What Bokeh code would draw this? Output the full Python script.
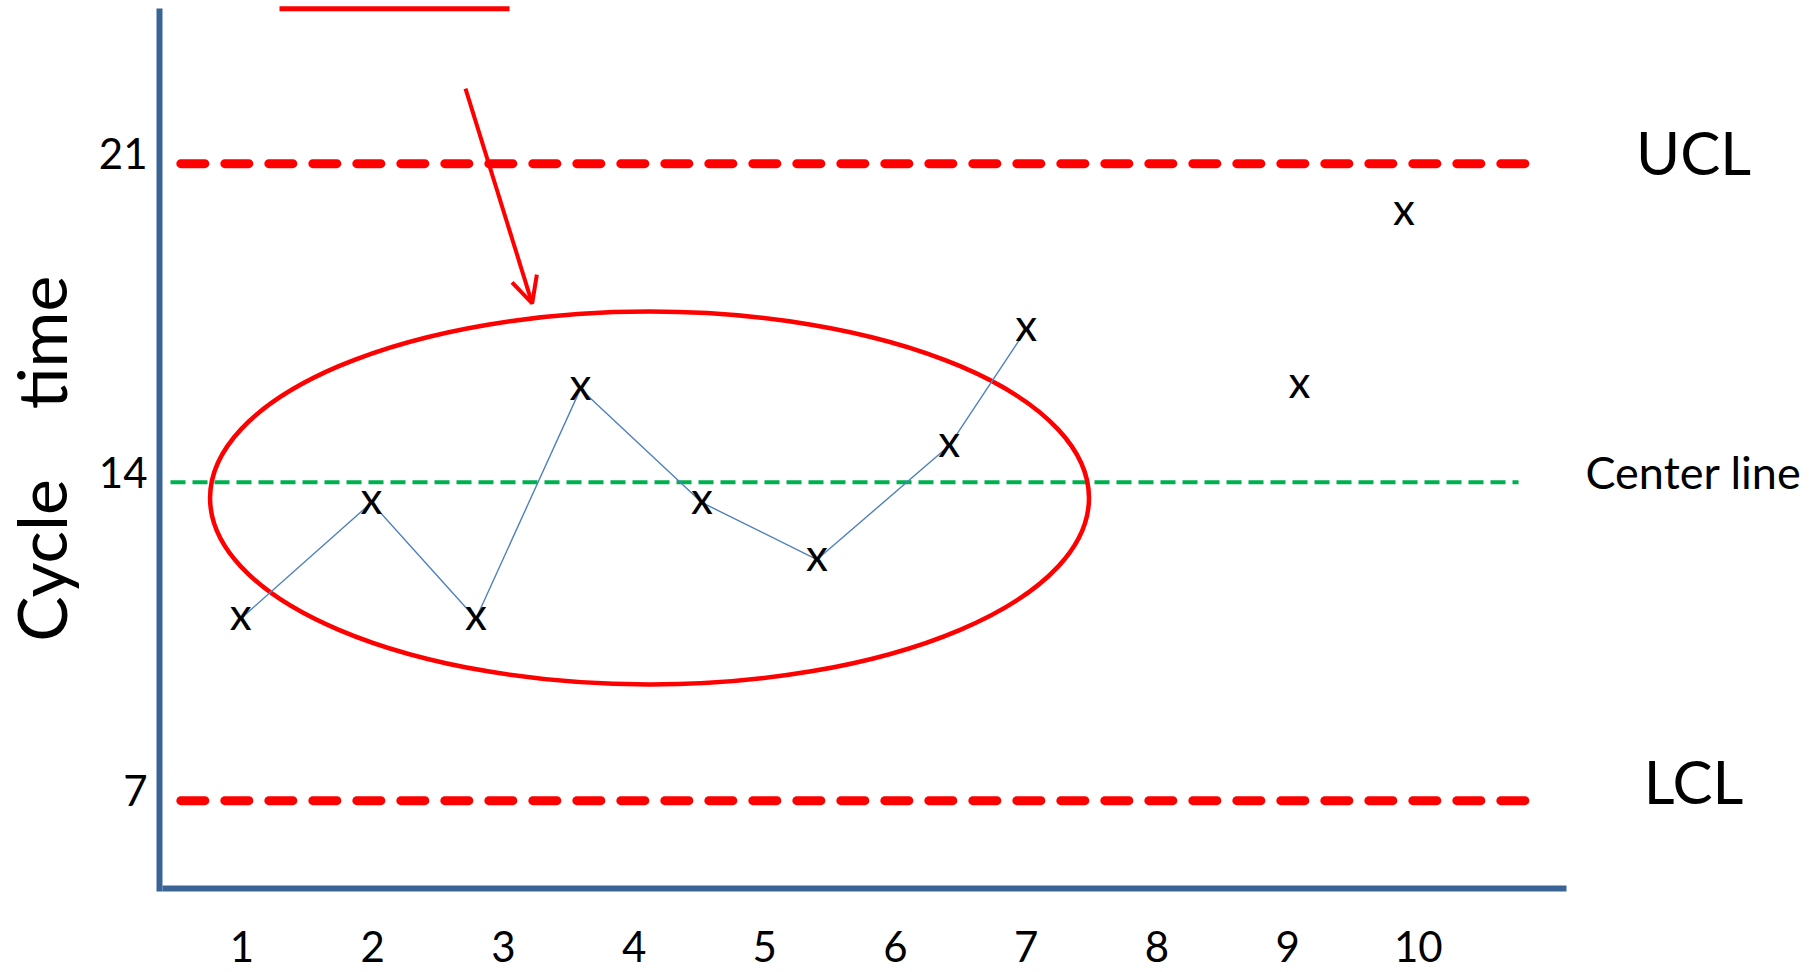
from bokeh.plotting import figure
from bokeh.models import FixedTicker, Arrow, OpenHead, Range1d
from bokeh.embed import file_html
from bokeh.resources import INLINE
from bokeh.core.properties import value

# ---------------- data ----------------
sample_x = [0.99, 1.99, 2.79, 3.59, 4.52, 5.40, 6.41, 7.00, 9.09, 9.89]
cycle_time = [11.0, 13.55, 11.0, 16.05, 13.55, 12.3, 14.8, 17.35, 16.1, 19.9]
n_connected = 8                     # first samples joined by the run line
ucl = 21
center = 14
lcl = 7
limit_names = ["UCL", "Center line", "LCL"]
y_ticks = [7, 14, 21]
x_ticks = [1, 2, 3, 4, 5, 6, 7, 8, 9, 10]
x_tick_labels = ["1", "2", "3", "4", "5", "6", "7", "8", "9", "10"]
y_title = "Cycle\u00a0\u00a0\u00a0\u00a0time\u00a0"

# ---------------- layout / style ----------------
FONT = "Lato"
AXIS = "#3B6496"
RED = "#FF0000"
GREEN = "#00B050"
BLUE = "#4F81BD"

X_RANGE = (-0.8477, 13.0696)
Y_RANGE = (3.2235, 24.586)
AXIS_X = 0.3688      # where the vertical axis stands
AXIS_Y = 5.07        # where the horizontal axis stands
LABEL_LIFT = 0.22    # y tick labels sit slightly above their lines in the sketch

p = figure(width=1819, height=972, output_backend="svg", toolbar_location=None,
           x_range=X_RANGE, y_range=Y_RANGE,
           min_border=0, min_border_left=0, min_border_right=0,
           min_border_top=0, min_border_bottom=0)
p.grid.visible = False
p.outline_line_color = None
p.background_fill_color = "white"
p.border_fill_color = "white"
p.extra_y_ranges = {"ticks": Range1d(Y_RANGE[0] - LABEL_LIFT, Y_RANGE[1] - LABEL_LIFT)}

for ax in (p.xaxis[0], p.yaxis[0]):
    ax.axis_line_color = AXIS
    ax.axis_line_width = 6
    ax.major_tick_line_color = None
    ax.minor_tick_line_color = None
    ax.major_label_text_font = FONT
    ax.major_label_text_font_size = "42px"
    ax.major_label_text_color = "black"

p.xaxis.fixed_location = AXIS_Y
p.xaxis.bounds = (0.39, 11.134)
p.xaxis.ticker = FixedTicker(ticks=x_ticks)
p.xaxis.major_label_overrides = {t: l for t, l in zip(x_ticks, x_tick_labels)}
p.xaxis.major_label_standoff = 37

yax = p.yaxis[0]
yax.y_range_name = "ticks"
yax.fixed_location = AXIS_X
yax.bounds = (5.0 - LABEL_LIFT, 24.41 - LABEL_LIFT)
yax.ticker = FixedTicker(ticks=y_ticks)
yax.major_label_standoff = 6
yax.axis_label = y_title
yax.axis_label_text_font = FONT
yax.axis_label_text_font_size = "68px"
yax.axis_label_text_font_style = "normal"
yax.axis_label_text_color = "black"
yax.axis_label_standoff = 15

# control limits
lim_x0, lim_x1 = 0.532, 10.824
p.segment(x0=[lim_x0, lim_x0], x1=[lim_x1, lim_x1], y0=[ucl, lcl], y1=[ucl, lcl],
          line_color=RED, line_width=9, line_dash="24 20", line_cap="round")
p.segment(x0=[0.453], x1=[10.767], y0=[center], y1=[center],
          line_color=GREEN, line_width=4, line_dash="15 7")

# highlight ellipse around the run
p.ellipse(x=[4.118], y=[13.652], width=[6.725], height=[8.198],
          fill_color=None, line_color=RED, line_width=4.5)

# short red bar at the top
p.segment(x0=[1.287], x1=[3.047], y0=[24.404], y1=[24.404], line_color=RED, line_width=5)

# arrow
p.add_layout(Arrow(end=OpenHead(size=26, line_color=RED, line_width=4),
                   x_start=2.71, y_start=22.65, x_end=3.22, y_end=17.93,
                   line_color=RED, line_width=4))

# run line + x marks
p.line(sample_x[:n_connected], cycle_time[:n_connected], line_color=BLUE, line_width=1.4)
p.text(x=sample_x, y=cycle_time, text=["x"] * len(sample_x),
       text_align="center", text_baseline="middle", y_offset=-6,
       text_font=value(FONT), text_font_size="44px", text_color="black")

# limit labels to the right of the plot area
label_x = 12.106
p.text(x=[label_x, label_x], y=[ucl, lcl], text=[limit_names[0], limit_names[2]],
       text_align="center", text_baseline="middle", y_offset=[-12, -20],
       text_font=value(FONT), text_font_size="60px", text_color="black")
p.text(x=[label_x], y=[center], text=[limit_names[1]],
       text_align="center", text_baseline="middle", y_offset=[-10],
       text_font=value(FONT), text_font_size="45px", text_color="black")

open("out.html", "w").write(file_html(p, INLINE))
